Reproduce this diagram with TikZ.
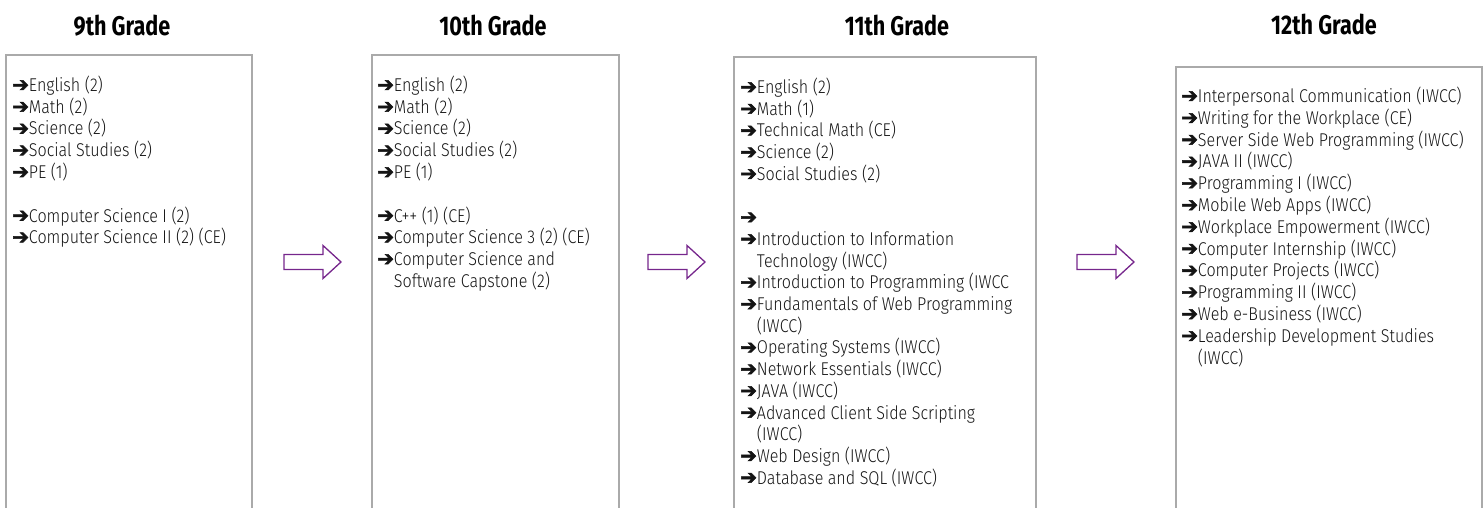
\documentclass[tikz,border=0pt]{standalone}
\usepackage{fontspec}
\setmainfont{Fira Sans}[FakeStretch=0.87, UprightFont=* Light]
\newfontfamily\titlefont{Fira Sans}[FakeStretch=0.8]
\newfontfamily\arrowfont{DejaVu Sans}[FakeBold=2.5]
\definecolor{boxgray}{RGB}{170,170,170}
\definecolor{arrowpurple}{RGB}{118,38,140}
\definecolor{txt}{RGB}{20,20,20}
\newcommand\ar{{\arrowfont\fontsize{20}{20}\selectfont ➔}}
\newcommand\ind{\phantom{\ar}}
\tikzset{
  gradebox/.style={draw=boxgray, line width=1.5pt},
  blockarrow/.style={draw=arrowpurple, line width=1.3pt, line join=miter},
  item/.style={anchor=base west, inner sep=0pt, text=txt, font=\fontsize{18.5}{21.75}\selectfont},
  gradetitle/.style={anchor=base, inner sep=0pt, text=black, font=\titlefont\bfseries\fontsize{27}{30}\selectfont},
}
\begin{document}
\begin{tikzpicture}[x=1pt,y=-1pt]
\useasboundingbox (0,0) rectangle (1483,508);
\begin{scope}
\clip (0,0) rectangle (1483,508);
% boxes
\draw[gradebox] (6,520) -- (6,55) -- (252,55) -- (252,520);
\draw[gradebox] (372,520) -- (372,55) -- (619,55) -- (619,520);
\draw[gradebox] (734,520) -- (734,57) -- (1036,57) -- (1036,520);
\draw[gradebox] (1176,520) -- (1176,67) -- (1482,67) -- (1482,520);
\end{scope}
% titles
\node[gradetitle] (t9) at (122,36) {9th Grade};
\node[gradetitle] (t10) at (493,36) {10th Grade};
\node[gradetitle] (t11) at (897,36) {11th Grade};
\node[gradetitle] (t12) at (1324,35) {12th Grade};
% block arrows
\foreach \x/\n in {284/a1, 648/a2, 1077/a3}{
  \coordinate (\n) at (\x,262);
  \draw[blockarrow, shift={(\n)}] (0,-7.5) -- (39,-7.5) -- (39,-16.5) -- (57,0) -- (39,16.5) -- (39,7.5) -- (0,7.5) -- cycle;
}
% 9th grade
\foreach \t [count=\i from 0] in {
  {\ar English (2)}, {\ar Math (2)}, {\ar Science (2)}, {\ar Social Studies (2)}, {\ar PE (1)}, {},
  {\ar Computer Science I (2)}, {\ar Computer Science II (2) (CE)}}
  \node[item] (g9-\i) at (12,91.5+\i*21.75) {\t};
% 10th grade
\foreach \t [count=\i from 0] in {
  {\ar English (2)}, {\ar Math (2)}, {\ar Science (2)}, {\ar Social Studies (2)}, {\ar PE (1)}, {},
  {\ar C++ (1) (CE)}, {\ar Computer Science 3 (2) (CE)}, {\ar Computer Science and},
  {\ind Software Capstone (2)}}
  \node[item] (g10-\i) at (377,91.5+\i*21.75) {\t};
% 11th grade
\foreach \t [count=\i from 0] in {
  {\ar English (2)}, {\ar Math (1)}, {\ar Technical Math (CE)}, {\ar Science (2)}, {\ar Social Studies (2)}, {},
  {\ar}, {\ar Introduction to Information}, {\ind Technology (IWCC)},
  {\ar Introduction to Programming (IWCC}, {\ar Fundamentals of Web Programming}, {\ind (IWCC)},
  {\ar Operating Systems (IWCC)}, {\ar Network Essentials (IWCC)}, {\ar JAVA (IWCC)},
  {\ar Advanced Client Side Scripting}, {\ind (IWCC)}, {\ar Web Design (IWCC)}, {\ar Database and SQL (IWCC)}}
  \node[item] (g11-\i) at (740,93.5+\i*21.7) {\t};
% 12th grade
\foreach \t [count=\i from 0] in {
  {\ar Interpersonal Communication (IWCC)}, {\ar Writing for the Workplace (CE)},
  {\ar Server Side Web Programming (IWCC)}, {\ar JAVA II (IWCC)}, {\ar Programming I (IWCC)},
  {\ar Mobile Web Apps (IWCC)}, {\ar Workplace Empowerment (IWCC)}, {\ar Computer Internship (IWCC)},
  {\ar Computer Projects (IWCC)}, {\ar Programming II (IWCC)}, {\ar Web e-Business (IWCC)},
  {\ar Leadership Development Studies}, {\ind (IWCC)}}
  \node[item] (g12-\i) at (1181,102.5+\i*21.8) {\t};
\end{tikzpicture}
\end{document}
